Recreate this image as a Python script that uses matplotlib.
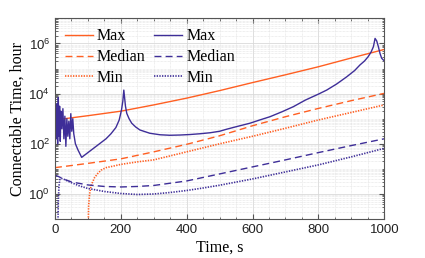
import numpy as np
import matplotlib
matplotlib.use("Agg")
import matplotlib.pyplot as plt
from matplotlib.ticker import (LogLocator, MultipleLocator, NullFormatter,
                               LogFormatterSciNotation, FixedLocator)

plt.rcParams['mathtext.fontset'] = 'custom'
plt.rcParams['mathtext.rm'] = 'Liberation Sans'
plt.rcParams['mathtext.it'] = 'Liberation Sans:italic'

# ---- data (log10 of connectable time in hours) ----
orange_max_t = [0, 100, 200, 300, 400, 500, 600, 700, 800, 900, 1000]
orange_max_log = [2.95, 3.12, 3.30, 3.55, 3.82, 4.12, 4.44, 4.75, 5.07, 5.42, 5.76]

orange_med_t = [0, 100, 200, 300, 400, 500, 600, 700, 800, 900, 1000]
orange_med_log = [1.05, 1.22, 1.40, 1.68, 1.98, 2.32, 2.72, 3.08, 3.41, 3.72, 4.01]

orange_min_t = [100, 102, 105, 110, 120, 130, 140, 155, 180, 200, 250, 300, 400, 500,
                600, 700, 800, 900, 1000]
orange_min_log = [-2.0, -0.5, 0.0, 0.35, 0.65, 0.82, 0.95, 1.05, 1.12, 1.18, 1.28, 1.36,
                  1.68, 2.00, 2.30, 2.62, 2.95, 3.25, 3.55]

blue_max_t = [0, 2, 4, 6, 8, 10, 12, 14, 16, 18, 21, 24, 27, 30, 33, 36, 39, 42, 45, 48,
              51, 54, 57, 62, 70, 81, 95, 110, 125, 140, 155, 170, 185, 195, 202, 206, 209,
              214, 218, 225, 233, 245, 258, 288, 319, 349, 380, 410, 440, 471, 500, 521,
              550, 592, 622, 653, 690, 724, 760, 800, 825, 855, 886, 910, 926, 940, 951,
              960, 967, 972, 977, 982, 987, 992, 1000]
blue_max_log = [2.6, 3.3, 2.2, 3.6, 2.0, 3.85, 2.3, 3.5, 2.1, 3.3, 2.6, 3.4, 2.2, 3.1, 1.9,
                3.0, 2.3, 2.9, 2.2, 3.2, 2.5, 3.0, 2.4, 2.0, 1.75, 1.46, 1.6, 1.75, 1.9,
                2.05, 2.2, 2.4, 2.65, 2.95, 3.35, 3.7, 4.14, 3.5, 3.21, 3.0, 2.82, 2.67,
                2.55, 2.42, 2.36, 2.34, 2.35, 2.37, 2.40, 2.44, 2.50, 2.58, 2.68, 2.82,
                2.95, 3.08, 3.28, 3.48, 3.74, 3.98, 4.14, 4.38, 4.67, 4.92, 5.14, 5.30,
                5.47, 5.66, 5.87, 6.20, 6.10, 5.87, 5.60, 5.41, 5.30]

blue_med_t = [0, 10, 25, 50, 100, 150, 200, 250, 300, 400, 500, 600, 700, 800, 900, 1000]
blue_med_log = [0.75, 0.70, 0.60, 0.48, 0.36, 0.30, 0.28, 0.30, 0.34, 0.52, 0.80, 1.08,
                1.36, 1.65, 1.93, 2.20]

blue_min_t = [8, 10, 12, 15, 20, 30, 50, 75, 100, 150, 200, 250, 300, 350, 400, 450, 500,
              600, 700, 800, 900, 1000]
blue_min_log = [-2.0, -0.3, 0.3, 0.6, 0.62, 0.57, 0.45, 0.32, 0.22, 0.10, 0.02, -0.02,
                0.0, 0.06, 0.14, 0.24, 0.35, 0.60, 0.88, 1.16, 1.48, 1.82]

y_major_ticks = [1e0, 1e2, 1e4, 1e6]
labels = ["Max", "Median", "Min"]
ORANGE = '#FF5F22'
BLUE = '#3E2E98'

fig = plt.figure(figsize=(4.25, 2.58), dpi=100)
ax = fig.add_axes([0.1294, 0.1508, 0.7748, 0.7782])

lw = 1.0
ax.plot(orange_max_t, 10 ** np.array(orange_max_log), color=ORANGE, lw=lw, ls='-', label=labels[0])
ax.plot(orange_med_t, 10 ** np.array(orange_med_log), color=ORANGE, lw=lw, ls=(0, (5, 3)), label=labels[1])
ax.plot(orange_min_t, 10 ** np.array(orange_min_log), color=ORANGE, lw=1.2, ls=(0, (0.8, 0.8)), label=labels[2])
ax.plot(blue_max_t, 10 ** np.array(blue_max_log), color=BLUE, lw=lw, ls='-', label=labels[0])
ax.plot(blue_med_t, 10 ** np.array(blue_med_log), color=BLUE, lw=lw, ls=(0, (5, 3)), label=labels[1])
ax.plot(blue_min_t, 10 ** np.array(blue_min_log), color=BLUE, lw=1.2, ls=(0, (0.8, 0.8)), label=labels[2])

ax.set_yscale('log')
ax.set_xlim(0, 1000)
ax.set_ylim(1e-1, 1e7)
ax.xaxis.set_major_locator(MultipleLocator(200))
ax.xaxis.set_minor_locator(MultipleLocator(50))
ax.yaxis.set_major_locator(FixedLocator(y_major_ticks))
ax.yaxis.set_minor_locator(LogLocator(base=10.0, subs=np.arange(1, 10), numticks=20))
ax.yaxis.set_major_formatter(LogFormatterSciNotation(base=10.0))
ax.yaxis.set_minor_formatter(NullFormatter())

ax.grid(which='major', color='#d9d9d9', lw=0.6, ls='-')
ax.grid(which='minor', color='#e0e0e0', lw=0.5, ls=(0, (1, 1)))
ax.set_axisbelow(True)

spine_col = '#555555'
for s in ax.spines.values():
    s.set_color(spine_col)
    s.set_linewidth(0.8)
ax.tick_params(which='both', direction='in', top=True, right=True, colors=spine_col,
               labelcolor='#222222')
ax.tick_params(which='major', length=3.5, labelsize=9.5)
ax.tick_params(which='minor', length=1.8)
for lab in ax.get_xticklabels() + ax.get_yticklabels():
    lab.set_family('Liberation Sans')

ax.set_xlabel('Time, s', family='Liberation Serif', fontsize=11.5, labelpad=3)
ax.set_ylabel('Connectable Time, hour', family='Liberation Serif', fontsize=11.5, labelpad=2)

leg = ax.legend(ncol=2, loc='upper left', frameon=False,
                prop={'family': 'Liberation Serif', 'size': 11.5},
                handlelength=1.75, handletextpad=0.25, columnspacing=0.55, labelspacing=0.3,
                borderaxespad=0.0, borderpad=0.0, bbox_to_anchor=(0.03, 0.95))

fig.savefig('out.png', dpi=100)
